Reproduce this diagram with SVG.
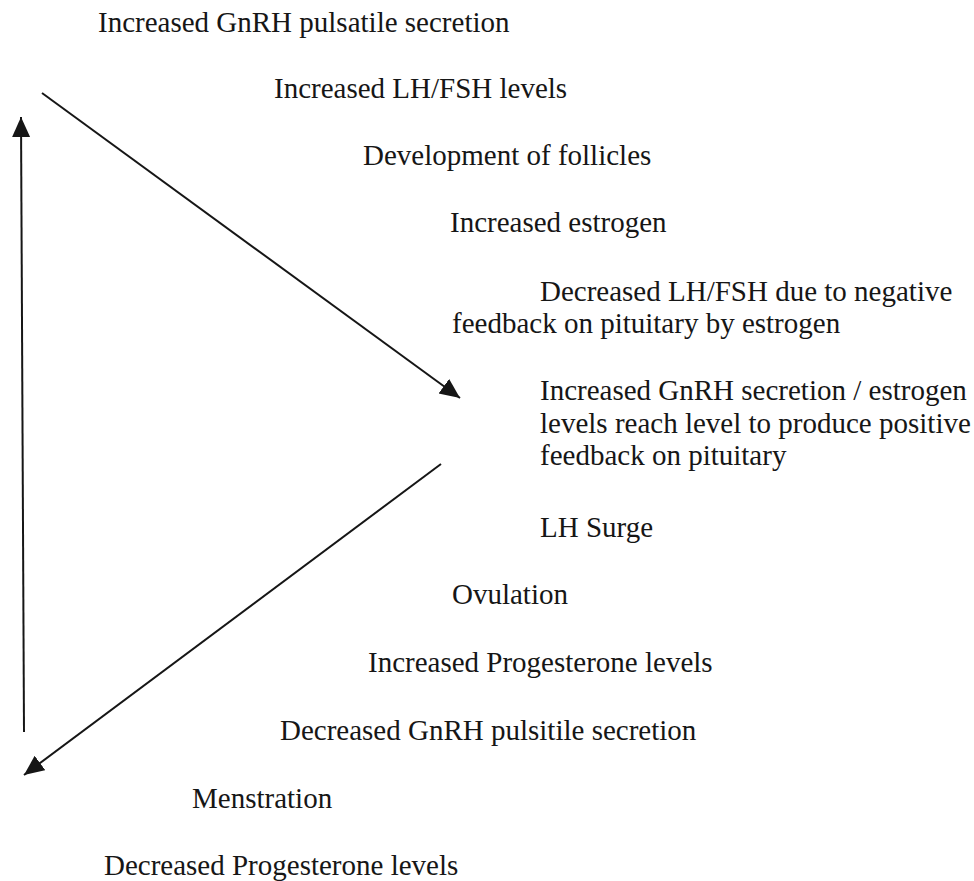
<svg xmlns="http://www.w3.org/2000/svg" width="974" height="881" viewBox="0 0 974 881">
<style>
text { font-family: "Liberation Serif", "Times New Roman", serif; font-size: 29px; fill: #161616; }
.conn { stroke: #161616; stroke-width: 2; fill: none; marker-end: url(#ah); }
</style>
<defs>
<marker id="ah" markerUnits="userSpaceOnUse" markerWidth="22" markerHeight="20" refX="20" refY="9" orient="auto">
<path d="M0,0 L20,9 L0,18 z" fill="#161616"/>
</marker>
</defs>
<rect width="974" height="881" fill="#ffffff"/>
<g id="connectors">
<line class="conn" x1="42" y1="93" x2="460" y2="398"/>
<line class="conn" x1="441" y1="464" x2="24" y2="775"/>
<line class="conn" x1="24" y1="732" x2="21" y2="117"/>
</g>
<g id="n1"><text x="98" y="32">Increased GnRH pulsatile secretion</text></g>
<g id="n2"><text x="274" y="98">Increased LH/FSH levels</text></g>
<g id="n3"><text x="363" y="165">Development of follicles</text></g>
<g id="n4"><text x="450" y="232">Increased estrogen</text></g>
<g id="n5"><text x="540" y="301">Decreased LH/FSH due to negative</text><text x="452" y="333">feedback on pituitary by estrogen</text></g>
<g id="n6"><text x="540" y="400">Increased GnRH secretion / estrogen</text><text x="540" y="433">levels reach level to produce positive</text><text x="540" y="465">feedback on pituitary</text></g>
<g id="n7"><text x="540" y="537">LH Surge</text></g>
<g id="n8"><text x="452" y="604">Ovulation</text></g>
<g id="n9"><text x="368" y="672">Increased Progesterone levels</text></g>
<g id="n10"><text x="280" y="740">Decreased GnRH pulsitile secretion</text></g>
<g id="n11"><text x="192" y="808">Menstration</text></g>
<g id="n12"><text x="104" y="875">Decreased Progesterone levels</text></g>
</svg>
